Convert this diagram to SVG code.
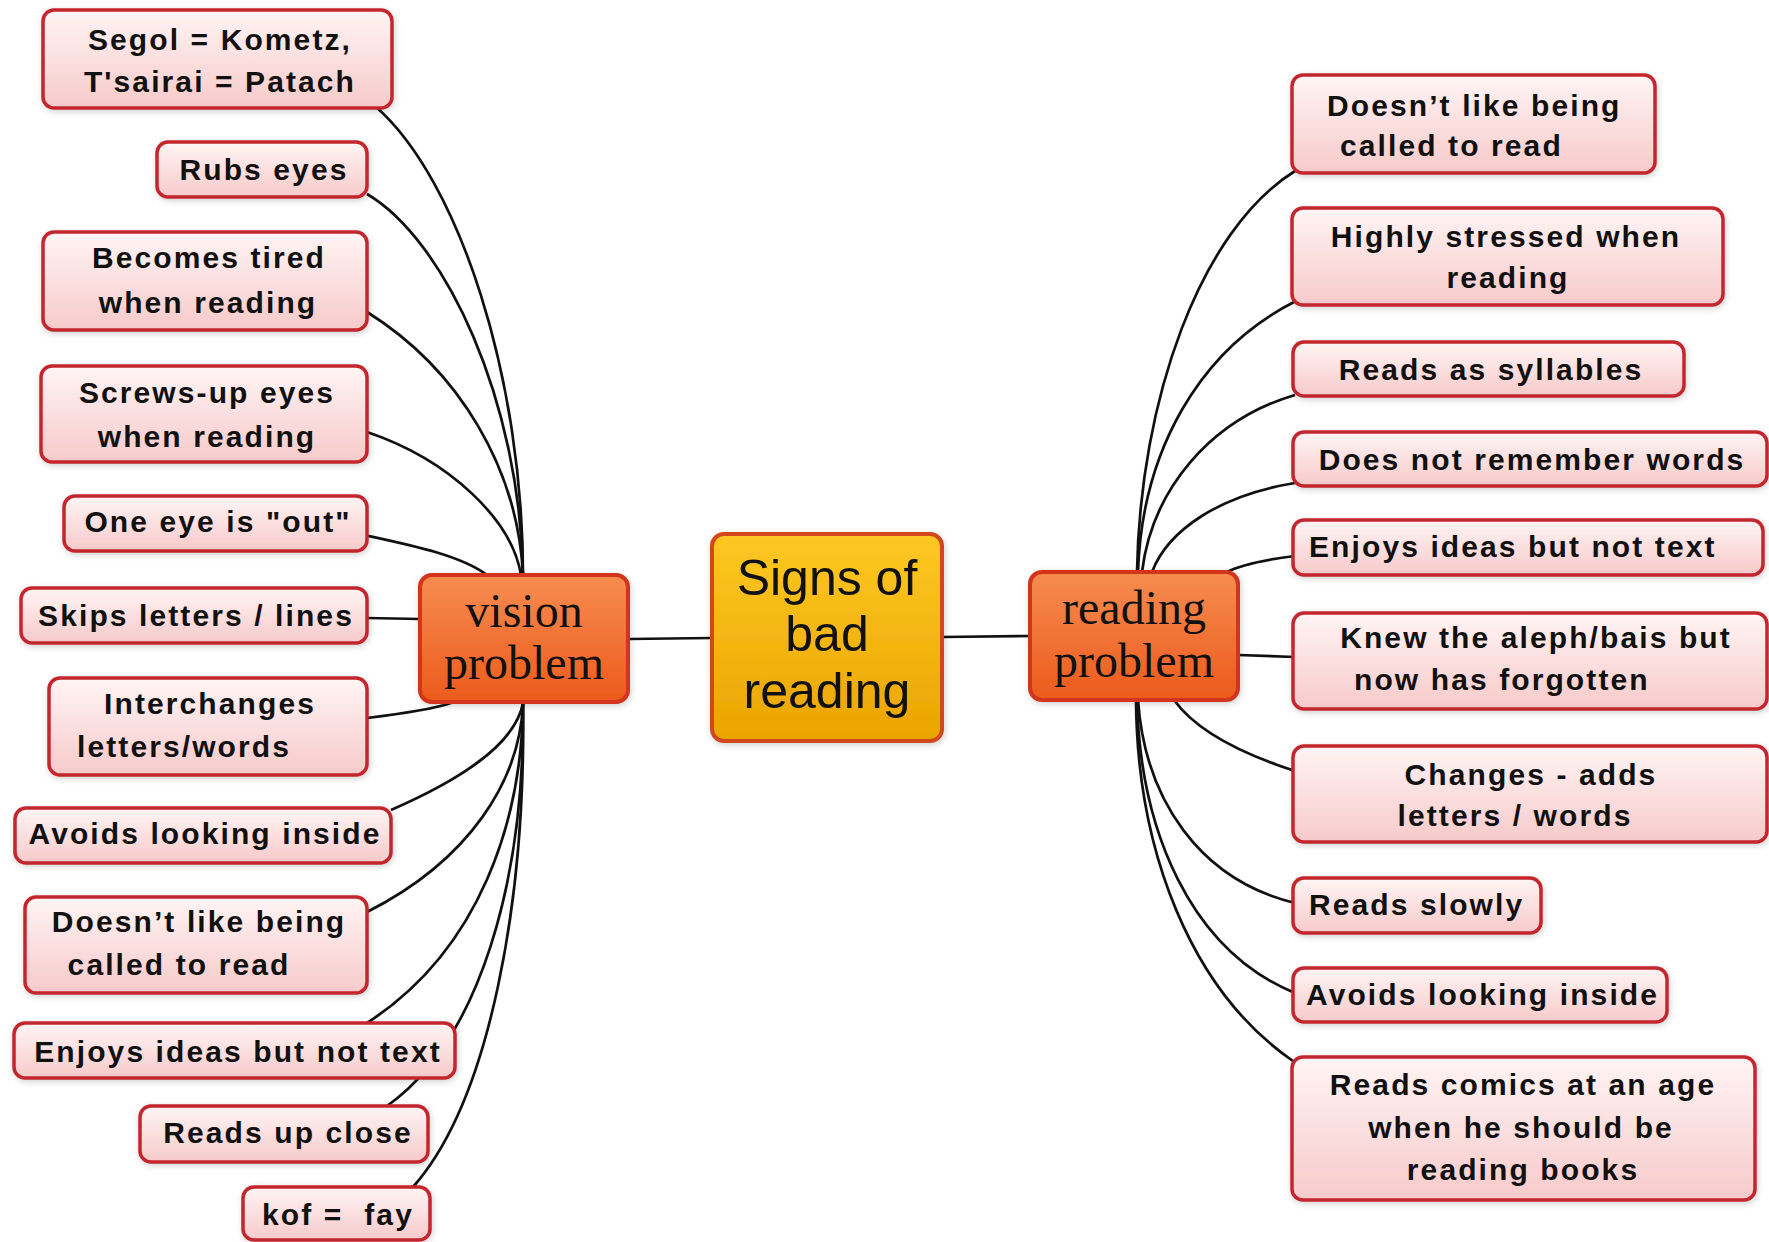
<svg xmlns="http://www.w3.org/2000/svg" width="1769" height="1242" viewBox="0 0 1769 1242">
  <defs>
    <linearGradient id="gLeaf" x1="0" y1="0" x2="0" y2="1">
      <stop offset="0" stop-color="#fff4f4"/>
      <stop offset="1" stop-color="#f7caca"/>
    </linearGradient>
    <linearGradient id="gRoot" x1="0" y1="0" x2="0" y2="1">
      <stop offset="0" stop-color="#fdc824"/>
      <stop offset="1" stop-color="#eaa400"/>
    </linearGradient>
    <linearGradient id="gBranch" x1="0" y1="0" x2="0" y2="1">
      <stop offset="0" stop-color="#f68c50"/>
      <stop offset="1" stop-color="#ec5a1c"/>
    </linearGradient>
    <filter id="shadow" x="-10%" y="-20%" width="120%" height="140%">
      <feDropShadow dx="1" dy="2" stdDeviation="3" flood-color="#000" flood-opacity="0.18"/>
    </filter>
  </defs>
  <style>
    .leaf rect { fill: url(#gLeaf); stroke: #c4262e; stroke-width: 3.5; filter: url(#shadow); }
    .leaf text { font-family: "Liberation Sans", Arial, sans-serif; font-weight: bold; font-size: 30px; letter-spacing: 2.1px; fill: #111; white-space: pre; }
    .root rect { fill: url(#gRoot); stroke: #d2461a; stroke-width: 4; filter: url(#shadow); }
    .root text { font-family: "Liberation Sans", Arial, sans-serif; font-size: 50px; fill: #111; text-anchor: middle; }
    .branch rect { fill: url(#gBranch); stroke: #d2341c; stroke-width: 4; filter: url(#shadow); }
    .branch text { font-family: "Liberation Serif", "Times New Roman", serif; font-size: 48px; fill: #111; text-anchor: middle; }
    .c { text-anchor: middle; }
    #connectors path { fill: none; stroke: #111; stroke-width: 2.7; }
  </style>
  <rect width="1769" height="1242" fill="#ffffff"/>

  <!-- connectors are drawn first so the boxes sit on top of them -->
  <g id="connectors">
    <!-- main branches -->
    <path d="M 628 639 L 712 638"/>
    <path d="M 942 637 L 1030 636"/>
    <!-- vision problem leaves -->
    <path d="M 375 106 C 460 180, 523 380, 523 575"/>
    <path d="M 367 194 C 445 240, 520 400, 523 575"/>
    <path d="M 367 312 C 460 370, 518 470, 523 575"/>
    <path d="M 367 432 C 450 460, 512 520, 521 575"/>
    <path d="M 364 535 C 410 545, 460 555, 487 575"/>
    <path d="M 367 618 L 420 619"/>
    <path d="M 367 718 C 400 714, 430 710, 451 703"/>
    <path d="M 391 810 C 460 780, 515 745, 523 703"/>
    <path d="M 367 912 C 470 860, 520 780, 523 703"/>
    <path d="M 367 1023 C 480 950, 522 820, 523 703"/>
    <path d="M 387 1106 C 480 1040, 525 880, 523 703"/>
    <path d="M 413 1187 C 490 1100, 526 900, 523 703"/>
    <!-- reading problem leaves -->
    <path d="M 1295 171 C 1200 230, 1140 400, 1137 572"/>
    <path d="M 1294 302 C 1200 350, 1142 450, 1138 572"/>
    <path d="M 1295 395 C 1210 420, 1152 490, 1142 572"/>
    <path d="M 1295 483 C 1220 495, 1168 530, 1152 572"/>
    <path d="M 1295 556 C 1262 560, 1240 565, 1225 573"/>
    <path d="M 1295 657 L 1238 655"/>
    <path d="M 1295 771 C 1230 750, 1192 725, 1174 700"/>
    <path d="M 1295 903 C 1200 880, 1145 800, 1138 700"/>
    <path d="M 1295 993 C 1190 950, 1140 830, 1137 700"/>
    <path d="M 1293 1061 C 1190 990, 1137 850, 1136 700"/>
  </g>

  <!-- central topic -->
  <g id="root" class="root">
    <rect x="712" y="534" width="230" height="207" rx="12"/>
    <text x="827" y="595">Signs of</text>
    <text x="827" y="651">bad</text>
    <text x="827" y="708">reading</text>
  </g>

  <g id="vision" class="branch">
    <rect x="420" y="575" width="208" height="127" rx="12"/>
    <text x="524" y="627">vision</text>
    <text x="524" y="679">problem</text>
  </g>

  <g id="reading" class="branch">
    <rect x="1030" y="572" width="208" height="128" rx="12"/>
    <text x="1134" y="624">reading</text>
    <text x="1134" y="677">problem</text>
  </g>

  <!-- vision problem leaves -->
  <g id="v-segol" class="leaf">
    <rect x="43" y="10" width="349" height="98" rx="11"/>
    <text class="c" x="220" y="50">Segol = Kometz,</text>
    <text class="c" x="220" y="92">T'sairai = Patach</text>
  </g>
  <g id="v-rubs" class="leaf">
    <rect x="157" y="142" width="210" height="55" rx="11"/>
    <text class="c" x="264" y="180">Rubs eyes</text>
  </g>
  <g id="v-tired" class="leaf">
    <rect x="43" y="232" width="324" height="98" rx="11"/>
    <text class="c" x="209" y="268">Becomes tired</text>
    <text class="c" x="208" y="313">when reading</text>
  </g>
  <g id="v-screws" class="leaf">
    <rect x="41" y="366" width="326" height="96" rx="11"/>
    <text class="c" x="207" y="403">Screws-up eyes</text>
    <text class="c" x="207" y="447">when reading</text>
  </g>
  <g id="v-oneeye" class="leaf">
    <rect x="64" y="496" width="303" height="55" rx="11"/>
    <text class="c" x="218" y="532">One eye is "out"</text>
  </g>
  <g id="v-skips" class="leaf">
    <rect x="21" y="588" width="346" height="55" rx="11"/>
    <text class="c" x="196" y="626">Skips letters / lines</text>
  </g>
  <g id="v-inter" class="leaf">
    <rect x="49" y="678" width="318" height="97" rx="11"/>
    <text class="c" x="210" y="714">Interchanges</text>
    <text class="c" x="184" y="757">letters/words</text>
  </g>
  <g id="v-avoids" class="leaf">
    <rect x="15" y="808" width="376" height="55" rx="11"/>
    <text class="c" x="205" y="844">Avoids looking inside</text>
  </g>
  <g id="v-called" class="leaf">
    <rect x="25" y="897" width="342" height="96" rx="11"/>
    <text class="c" x="199" y="932">Doesn’t like being</text>
    <text class="c" x="179" y="975">called to read</text>
  </g>
  <g id="v-enjoys" class="leaf">
    <rect x="14" y="1023" width="441" height="55" rx="11"/>
    <text class="c" x="238" y="1062">Enjoys ideas but not text</text>
  </g>
  <g id="v-close" class="leaf">
    <rect x="140" y="1106" width="288" height="56" rx="11"/>
    <text class="c" x="288" y="1143">Reads up close</text>
  </g>
  <g id="v-kof" class="leaf">
    <rect x="243" y="1187" width="187" height="53" rx="11"/>
    <text class="c" x="338" y="1225">kof =  fay</text>
  </g>

  <!-- reading problem leaves -->
  <g id="r-called" class="leaf">
    <rect x="1292" y="75" width="363" height="98" rx="11"/>
    <text x="1327" y="116">Doesn’t like being</text>
    <text x="1340" y="156">called to read</text>
  </g>
  <g id="r-stressed" class="leaf">
    <rect x="1292" y="208" width="431" height="97" rx="11"/>
    <text class="c" x="1506" y="247">Highly stressed when</text>
    <text class="c" x="1508" y="288">reading</text>
  </g>
  <g id="r-syllables" class="leaf">
    <rect x="1293" y="342" width="391" height="54" rx="11"/>
    <text class="c" x="1491" y="380">Reads as syllables</text>
  </g>
  <g id="r-remember" class="leaf">
    <rect x="1293" y="432" width="474" height="54" rx="11"/>
    <text class="c" x="1532" y="470">Does not remember words</text>
  </g>
  <g id="r-enjoys" class="leaf">
    <rect x="1293" y="520" width="470" height="55" rx="11"/>
    <text x="1309" y="557">Enjoys ideas but not text</text>
  </g>
  <g id="r-aleph" class="leaf">
    <rect x="1293" y="613" width="474" height="96" rx="11"/>
    <text class="c" x="1536" y="648">Knew the aleph/bais but</text>
    <text x="1354" y="690">now has forgotten</text>
  </g>
  <g id="r-changes" class="leaf">
    <rect x="1293" y="746" width="474" height="96" rx="11"/>
    <text class="c" x="1531" y="785">Changes - adds</text>
    <text class="c" x="1515" y="826">letters / words</text>
  </g>
  <g id="r-slowly" class="leaf">
    <rect x="1293" y="878" width="248" height="55" rx="11"/>
    <text x="1309" y="915">Reads slowly</text>
  </g>
  <g id="r-avoids" class="leaf">
    <rect x="1293" y="968" width="374" height="54" rx="11"/>
    <text x="1306" y="1005">Avoids looking inside</text>
  </g>
  <g id="r-comics" class="leaf">
    <rect x="1292" y="1057" width="463" height="143" rx="11"/>
    <text class="c" x="1523" y="1095">Reads comics at an age</text>
    <text class="c" x="1521" y="1138">when he should be</text>
    <text class="c" x="1523" y="1180">reading books</text>
  </g>
</svg>
